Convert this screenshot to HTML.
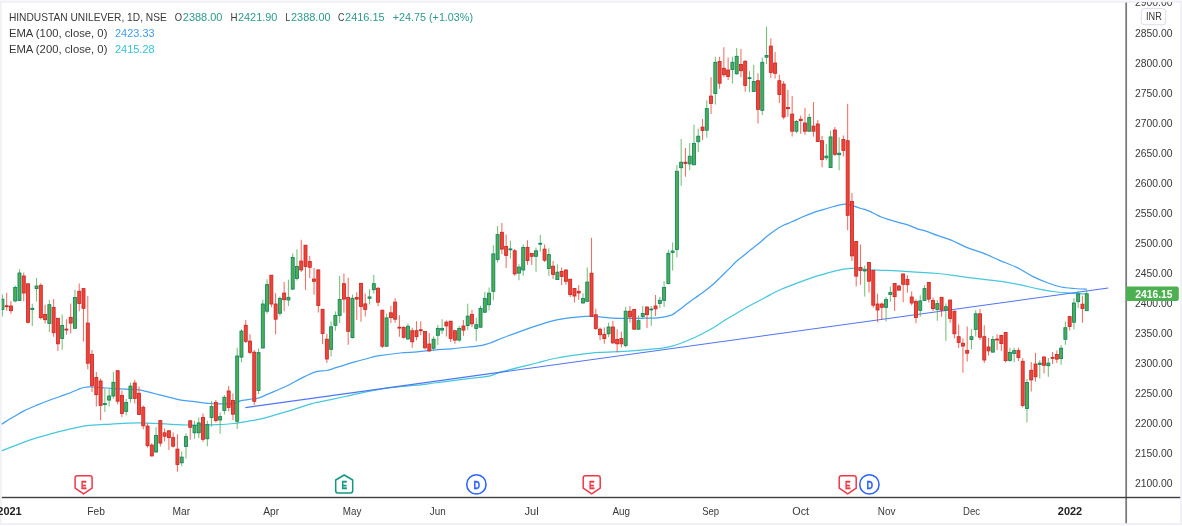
<!DOCTYPE html>
<html><head><meta charset="utf-8"><title>HINDUSTAN UNILEVER</title>
<style>html,body{margin:0;padding:0;background:#fff;}body{width:1182px;height:526px;overflow:hidden;font-family:"Liberation Sans",sans-serif;}svg{display:block;will-change:transform;}text{font-family:"Liberation Sans",sans-serif;}</style></head><body>
<svg width="1182" height="526" viewBox="0 0 1182 526">
<rect x="0" y="0" width="1182" height="526" fill="#ffffff"/>
<rect x="0" y="0" width="1182" height="0.8" fill="#f8f9fb"/>
<rect x="0" y="0.8" width="1182" height="2.0" fill="#f0f1f6"/>
<rect x="0" y="523.0" width="1182" height="2.1" fill="#f0f1f6"/>
<rect x="0" y="0.8" width="1.7" height="524.3" fill="#f0f1f6"/>
<rect x="1180.1" y="0.8" width="1.9" height="524.3" fill="#f0f1f6"/>
<defs><clipPath id="pc"><rect x="1.7" y="2.8" width="1123.7" height="493.8"/></clipPath></defs>
<g clip-path="url(#pc)">
<path d="M0.0,451.4 C0.2,451.30 -1.5,451.90 1.4,450.80 C4.2,449.70 11.6,446.83 17.1,444.80 C22.6,442.77 28.5,440.45 34.2,438.60 C39.9,436.75 45.6,435.23 51.3,433.70 C57.0,432.17 63.3,430.63 68.4,429.40 C73.5,428.17 78.1,427.02 82.1,426.30 C86.1,425.58 87.6,425.47 92.4,425.10 C97.2,424.73 105.2,424.42 111.2,424.10 C117.2,423.78 123.5,423.40 128.3,423.20 C133.2,423.00 136.0,422.87 140.3,422.90 C144.6,422.93 148.9,423.17 154.0,423.40 C159.1,423.63 165.4,424.03 171.1,424.30 C176.8,424.57 183.4,424.88 188.2,425.00 C193.0,425.12 195.2,425.05 200.0,425.00 C204.8,424.95 211.4,424.95 217.1,424.70 C222.8,424.45 229.1,424.07 234.2,423.50 C239.3,422.93 243.6,422.02 247.9,421.30 C252.2,420.58 255.0,420.35 259.9,419.20 C264.8,418.05 271.3,416.05 277.0,414.40 C282.7,412.75 288.4,411.07 294.1,409.30 C299.8,407.53 305.5,405.32 311.2,403.80 C316.9,402.28 322.6,401.42 328.3,400.20 C334.0,398.98 339.7,397.75 345.4,396.50 C351.1,395.25 356.8,393.90 362.5,392.70 C368.2,391.50 373.4,390.30 379.6,389.30 C385.9,388.30 393.8,387.38 400.0,386.70 C406.2,386.02 411.4,385.82 417.1,385.20 C422.8,384.58 428.5,383.73 434.2,383.00 C439.9,382.27 445.6,381.52 451.3,380.80 C457.0,380.08 462.1,379.48 468.4,378.70 C474.7,377.92 483.9,377.10 489.0,376.10 C494.1,375.10 494.1,374.20 499.2,372.70 C504.3,371.20 513.5,368.72 519.8,367.10 C526.1,365.48 531.2,364.43 536.9,363.00 C542.6,361.57 548.3,359.73 554.0,358.50 C559.7,357.27 565.4,356.45 571.1,355.60 C576.8,354.75 583.4,353.95 588.2,353.40 C593.0,352.85 592.8,352.72 600.0,352.30 C607.2,351.88 622.0,351.50 631.4,350.90 C640.8,350.30 649.7,349.48 656.5,348.70 C663.3,347.92 665.8,348.03 672.1,346.20 C678.4,344.37 687.3,340.73 694.1,337.70 C700.9,334.67 707.7,330.95 712.9,328.00 C718.1,325.05 721.1,322.50 725.1,320.00 C729.1,317.50 733.1,315.33 737.1,313.00 C741.1,310.67 745.1,308.17 749.0,306.00 C752.9,303.83 756.9,301.93 760.5,300.00 C764.1,298.07 767.4,296.18 770.9,294.40 C774.4,292.62 777.9,290.83 781.4,289.30 C784.9,287.77 788.3,286.55 791.8,285.20 C795.3,283.85 798.8,282.50 802.3,281.20 C805.8,279.90 809.3,278.55 812.8,277.40 C816.3,276.25 819.7,275.30 823.2,274.30 C826.7,273.30 830.6,272.22 833.7,271.40 C836.8,270.58 839.3,269.90 842.0,269.40 C844.7,268.90 847.7,268.55 850.0,268.40 C852.3,268.25 852.3,268.27 856.0,268.50 C859.7,268.73 863.8,269.33 872.0,269.80 C880.2,270.27 894.0,270.68 905.0,271.30 C916.0,271.92 928.8,272.65 938.0,273.50 C947.2,274.35 952.7,275.45 960.0,276.40 C967.3,277.35 974.7,278.28 982.0,279.20 C989.3,280.12 997.4,280.90 1004.0,281.90 C1010.6,282.90 1015.7,284.00 1021.6,285.20 C1027.5,286.40 1033.3,287.97 1039.2,289.10 C1045.1,290.23 1051.7,291.33 1056.8,292.00 C1061.9,292.67 1065.0,292.77 1070.0,293.10 C1075.0,293.43 1084.1,293.85 1086.9,294.00" fill="none" stroke="#45c8dc" stroke-width="1.25" stroke-linejoin="round"/>
<path d="M0.0,425.0 C0.2,424.88 -0.6,425.50 1.4,424.30 C3.4,423.10 8.2,420.03 12.0,417.80 C15.8,415.57 19.7,413.05 24.0,410.90 C28.3,408.75 33.1,406.80 37.6,404.90 C42.1,403.00 46.7,401.20 51.3,399.50 C55.9,397.80 60.7,396.28 65.0,394.70 C69.3,393.12 73.9,391.20 77.0,390.00 C80.1,388.80 81.2,388.00 83.8,387.50 C86.4,387.00 88.7,386.92 92.4,387.00 C96.1,387.08 101.4,387.70 106.0,388.00 C110.6,388.30 115.2,388.55 119.8,388.80 C124.4,389.05 129.7,389.23 133.4,389.50 C137.1,389.77 138.6,389.73 142.0,390.40 C145.4,391.07 149.7,392.42 154.0,393.50 C158.3,394.58 163.4,395.85 167.7,396.90 C172.0,397.95 175.9,399.08 179.6,399.80 C183.3,400.52 186.6,400.78 190.0,401.20 C193.4,401.62 196.6,401.92 200.0,402.30 C203.4,402.68 206.9,403.25 210.3,403.50 C213.7,403.75 216.5,403.83 220.5,403.80 C224.5,403.77 230.8,403.82 234.2,403.30 C237.6,402.78 238.2,401.42 241.1,400.70 C243.9,399.98 248.5,399.42 251.3,399.00 C254.2,398.58 255.3,399.05 258.2,398.20 C261.0,397.35 263.8,395.85 268.4,393.90 C272.9,391.95 279.8,389.22 285.5,386.50 C291.2,383.78 297.5,380.07 302.6,377.60 C307.7,375.13 312.3,372.88 316.3,371.70 C320.3,370.52 323.2,371.22 326.6,370.50 C330.0,369.78 332.3,368.78 336.9,367.40 C341.5,366.02 348.3,363.85 354.0,362.20 C359.7,360.55 366.8,358.58 371.1,357.50 C375.4,356.42 374.8,356.45 379.6,355.70 C384.4,354.95 393.8,353.65 400.0,353.00 C406.2,352.35 411.4,352.28 417.1,351.80 C422.8,351.32 428.5,350.60 434.2,350.10 C439.9,349.60 445.6,349.32 451.3,348.80 C457.0,348.28 463.3,347.58 468.4,347.00 C473.5,346.42 478.4,346.00 482.1,345.30 C485.8,344.60 487.3,344.02 490.7,342.80 C494.1,341.58 497.8,339.87 502.6,338.00 C507.5,336.13 514.1,333.65 519.8,331.60 C525.5,329.55 531.8,327.40 536.9,325.70 C542.0,324.00 546.3,322.55 550.6,321.40 C554.9,320.25 557.7,319.57 562.5,318.80 C567.3,318.03 575.0,317.25 579.6,316.80 C584.2,316.35 586.5,316.08 589.9,316.10 C593.3,316.12 595.2,316.53 600.0,316.90 C604.8,317.27 612.0,318.07 618.8,318.30 C625.6,318.53 633.9,318.42 640.8,318.30 C647.7,318.18 654.8,318.18 660.0,317.60 C665.2,317.02 669.1,315.85 672.0,314.80 C674.9,313.75 674.8,312.97 677.1,311.30 C679.4,309.63 682.9,306.93 685.7,304.80 C688.6,302.67 691.4,300.55 694.2,298.50 C697.1,296.45 699.9,294.63 702.8,292.50 C705.7,290.37 708.5,288.13 711.4,285.70 C714.2,283.27 717.0,280.62 719.9,277.90 C722.8,275.18 725.6,272.25 728.5,269.40 C731.4,266.55 734.2,263.37 737.1,260.80 C740.0,258.23 743.5,255.77 745.6,254.00 C747.8,252.23 747.9,251.90 750.0,250.20 C752.1,248.50 755.6,246.07 758.4,243.80 C761.2,241.53 763.9,238.87 766.7,236.60 C769.5,234.33 772.3,232.08 775.1,230.20 C777.9,228.32 780.7,226.70 783.5,225.30 C786.3,223.90 788.7,223.18 791.8,221.80 C794.9,220.42 798.8,218.50 802.3,217.00 C805.8,215.50 809.3,214.03 812.8,212.80 C816.3,211.57 819.7,210.65 823.2,209.60 C826.7,208.55 830.9,207.30 833.7,206.50 C836.5,205.70 838.2,205.18 840.1,204.80 C842.0,204.42 843.2,204.18 844.9,204.20 C846.6,204.22 848.9,204.57 850.4,204.90 C851.9,205.23 852.1,205.60 853.8,206.20 C855.5,206.80 858.7,207.90 860.7,208.50 C862.7,209.10 864.3,209.32 865.8,209.80 C867.3,210.28 868.2,210.62 869.9,211.40 C871.6,212.18 874.2,213.57 876.1,214.50 C878.0,215.43 879.2,216.18 881.2,217.00 C883.2,217.82 885.8,218.68 888.1,219.40 C890.4,220.12 892.9,220.73 894.9,221.30 C896.9,221.87 898.1,222.23 900.1,222.80 C902.1,223.37 904.6,223.95 906.9,224.70 C909.2,225.45 911.8,226.53 913.8,227.30 C915.8,228.07 916.9,228.67 918.9,229.30 C920.9,229.93 922.6,230.03 925.8,231.10 C929.0,232.17 933.8,234.20 938.0,235.70 C942.2,237.20 946.4,238.15 951.2,240.10 C956.0,242.05 961.5,245.32 966.6,247.40 C971.7,249.48 976.5,250.45 982.0,252.60 C987.5,254.75 993.7,257.80 999.6,260.30 C1005.5,262.80 1011.7,264.92 1017.2,267.60 C1022.7,270.28 1027.5,273.83 1032.6,276.40 C1037.7,278.97 1043.2,281.23 1048.0,283.00 C1052.8,284.77 1056.8,286.08 1061.2,287.00 C1065.6,287.92 1070.1,288.15 1074.4,288.50 C1078.7,288.85 1084.8,289.00 1086.9,289.10" fill="none" stroke="#46a0f2" stroke-width="1.25" stroke-linejoin="round"/>
<path d="M245.4,407.6 L1108.2,288.0" fill="none" stroke="#4f74f3" stroke-width="1.1"/>
<g stroke-width="1.05" opacity="0.78" fill="none"><path d="M2.40,294.4V316.6" stroke="#4caf50"/><path d="M6.67,293.0V310.7" stroke="#f44336"/><path d="M10.94,300.9V313.7" stroke="#f44336"/><path d="M15.21,285.5V302.6" stroke="#4caf50"/><path d="M19.48,269.2V300.9" stroke="#4caf50"/><path d="M23.74,272.6V301.2" stroke="#f44336"/><path d="M28.01,283.8V323.5" stroke="#f44336"/><path d="M32.28,303.8V326.0" stroke="#4caf50"/><path d="M36.55,278.0V301.6" stroke="#4caf50"/><path d="M40.82,283.3V319.4" stroke="#f44336"/><path d="M45.09,304.7V323.5" stroke="#f44336"/><path d="M49.36,300.0V332.0" stroke="#4caf50"/><path d="M53.63,299.0V336.8" stroke="#f44336"/><path d="M57.90,318.3V351.0" stroke="#f44336"/><path d="M62.17,314.5V349.7" stroke="#4caf50"/><path d="M66.44,319.2V334.7" stroke="#f44336"/><path d="M70.70,303.6V333.4" stroke="#f44336"/><path d="M74.97,290.0V328.6" stroke="#4caf50"/><path d="M79.24,283.6V311.3" stroke="#f44336"/><path d="M83.51,288.6V341.5" stroke="#f44336"/><path d="M87.78,296.0V369.2" stroke="#f44336"/><path d="M92.05,350.0V392.1" stroke="#f44336"/><path d="M96.32,372.0V406.6" stroke="#f44336"/><path d="M100.59,378.4V420.3" stroke="#f44336"/><path d="M104.86,388.7V412.1" stroke="#4caf50"/><path d="M109.13,388.7V406.6" stroke="#4caf50"/><path d="M113.39,371.9V398.4" stroke="#4caf50"/><path d="M117.66,370.3V404.6" stroke="#f44336"/><path d="M121.93,390.4V417.0" stroke="#f44336"/><path d="M126.20,399.0V415.5" stroke="#4caf50"/><path d="M130.47,382.7V402.4" stroke="#4caf50"/><path d="M134.74,379.8V403.2" stroke="#f44336"/><path d="M139.01,386.4V415.0" stroke="#f44336"/><path d="M143.28,405.6V429.3" stroke="#f44336"/><path d="M147.55,423.2V447.4" stroke="#f44336"/><path d="M151.81,443.1V456.4" stroke="#f44336"/><path d="M156.08,427.3V452.5" stroke="#4caf50"/><path d="M160.35,420.4V446.5" stroke="#f44336"/><path d="M164.62,428.5V441.4" stroke="#f44336"/><path d="M168.89,430.2V449.9" stroke="#f44336"/><path d="M173.16,432.5V447.4" stroke="#f44336"/><path d="M177.43,434.2V471.8" stroke="#f44336"/><path d="M181.70,451.3V466.2" stroke="#4caf50"/><path d="M185.97,433.2V458.5" stroke="#4caf50"/><path d="M190.24,420.5V439.7" stroke="#f44336"/><path d="M194.51,420.8V438.8" stroke="#4caf50"/><path d="M198.77,417.4V437.9" stroke="#4caf50"/><path d="M203.04,413.6V441.7" stroke="#f44336"/><path d="M207.31,420.8V446.2" stroke="#4caf50"/><path d="M211.58,401.1V426.8" stroke="#4caf50"/><path d="M215.85,399.9V422.5" stroke="#f44336"/><path d="M220.12,412.5V433.7" stroke="#4caf50"/><path d="M224.39,395.1V414.6" stroke="#4caf50"/><path d="M228.66,385.9V411.2" stroke="#f44336"/><path d="M232.93,393.6V420.2" stroke="#f44336"/><path d="M237.20,347.7V429.0" stroke="#4caf50"/><path d="M241.46,329.0V361.9" stroke="#4caf50"/><path d="M245.73,320.0V343.1" stroke="#f44336"/><path d="M250.00,334.3V354.2" stroke="#f44336"/><path d="M254.27,349.9V405.1" stroke="#f44336"/><path d="M258.54,348.5V393.9" stroke="#4caf50"/><path d="M262.81,299.7V348.4" stroke="#4caf50"/><path d="M267.08,279.2V313.8" stroke="#4caf50"/><path d="M271.35,275.2V307.2" stroke="#f44336"/><path d="M275.62,293.3V334.3" stroke="#f44336"/><path d="M279.88,296.5V315.7" stroke="#4caf50"/><path d="M284.15,281.9V311.2" stroke="#f44336"/><path d="M288.42,279.8V305.9" stroke="#4caf50"/><path d="M292.69,253.4V289.9" stroke="#4caf50"/><path d="M296.96,249.2V280.6" stroke="#4caf50"/><path d="M301.23,239.8V272.1" stroke="#f44336"/><path d="M305.50,245.2V289.9" stroke="#f44336"/><path d="M309.77,255.8V277.9" stroke="#f44336"/><path d="M314.04,268.1V294.8" stroke="#f44336"/><path d="M318.31,269.4V312.5" stroke="#f44336"/><path d="M322.57,309.2V344.0" stroke="#f44336"/><path d="M326.84,333.7V363.0" stroke="#f44336"/><path d="M331.11,321.4V356.5" stroke="#4caf50"/><path d="M335.38,311.4V330.8" stroke="#4caf50"/><path d="M339.65,276.0V323.1" stroke="#4caf50"/><path d="M343.92,273.4V312.8" stroke="#f44336"/><path d="M348.19,277.7V344.8" stroke="#f44336"/><path d="M352.46,294.5V338.5" stroke="#4caf50"/><path d="M356.73,292.3V320.0" stroke="#f44336"/><path d="M361.00,282.8V321.7" stroke="#f44336"/><path d="M365.26,293.6V316.6" stroke="#f44336"/><path d="M369.53,289.2V304.6" stroke="#4caf50"/><path d="M373.80,275.1V293.6" stroke="#4caf50"/><path d="M378.07,287.1V306.3" stroke="#f44336"/><path d="M382.34,309.7V347.9" stroke="#f44336"/><path d="M386.61,313.7V347.0" stroke="#4caf50"/><path d="M390.88,306.0V323.1" stroke="#f44336"/><path d="M395.15,298.3V322.7" stroke="#f44336"/><path d="M399.42,315.3V336.7" stroke="#f44336"/><path d="M403.69,326.3V338.6" stroke="#f44336"/><path d="M407.95,323.4V339.5" stroke="#4caf50"/><path d="M412.22,327.7V347.8" stroke="#f44336"/><path d="M416.49,321.2V340.4" stroke="#f44336"/><path d="M420.76,321.2V335.3" stroke="#f44336"/><path d="M425.03,331.5V349.5" stroke="#f44336"/><path d="M429.30,333.2V351.7" stroke="#f44336"/><path d="M433.57,336.6V350.7" stroke="#4caf50"/><path d="M437.84,325.0V344.9" stroke="#4caf50"/><path d="M442.11,319.2V334.1" stroke="#4caf50"/><path d="M446.38,320.4V336.6" stroke="#f44336"/><path d="M450.64,320.9V342.1" stroke="#f44336"/><path d="M454.91,330.7V343.8" stroke="#f44336"/><path d="M459.18,326.0V341.8" stroke="#4caf50"/><path d="M463.45,319.9V335.8" stroke="#f44336"/><path d="M467.72,303.8V330.1" stroke="#4caf50"/><path d="M471.99,309.8V327.2" stroke="#f44336"/><path d="M476.26,317.8V340.9" stroke="#4caf50"/><path d="M480.53,305.8V327.7" stroke="#4caf50"/><path d="M484.80,292.0V313.0" stroke="#4caf50"/><path d="M489.07,287.5V310.5" stroke="#4caf50"/><path d="M493.33,245.3V300.2" stroke="#4caf50"/><path d="M497.60,226.0V262.5" stroke="#4caf50"/><path d="M501.87,223.1V254.2" stroke="#f44336"/><path d="M506.14,234.6V267.9" stroke="#f44336"/><path d="M510.41,240.5V258.5" stroke="#4caf50"/><path d="M514.68,249.1V275.7" stroke="#f44336"/><path d="M518.95,264.2V280.3" stroke="#4caf50"/><path d="M523.22,244.3V275.7" stroke="#4caf50"/><path d="M527.49,240.2V264.9" stroke="#f44336"/><path d="M531.76,252.9V264.9" stroke="#f44336"/><path d="M536.02,247.4V271.7" stroke="#4caf50"/><path d="M540.29,235.1V251.7" stroke="#4caf50"/><path d="M544.56,244.5V262.0" stroke="#f44336"/><path d="M548.83,248.3V275.7" stroke="#4caf50"/><path d="M553.10,261.1V279.1" stroke="#f44336"/><path d="M557.37,264.2V279.9" stroke="#4caf50"/><path d="M561.64,267.6V285.1" stroke="#f44336"/><path d="M565.91,269.3V284.7" stroke="#f44336"/><path d="M570.18,279.0V296.9" stroke="#f44336"/><path d="M574.45,288.1V302.4" stroke="#f44336"/><path d="M578.72,285.2V299.8" stroke="#f44336"/><path d="M582.98,293.3V303.5" stroke="#4caf50"/><path d="M587.25,267.6V301.8" stroke="#4caf50"/><path d="M591.52,237.8V316.7" stroke="#f44336"/><path d="M595.79,308.7V330.1" stroke="#f44336"/><path d="M600.06,327.5V340.3" stroke="#f44336"/><path d="M604.33,327.5V343.8" stroke="#f44336"/><path d="M608.60,322.4V336.9" stroke="#4caf50"/><path d="M612.87,320.7V343.8" stroke="#f44336"/><path d="M617.14,329.2V352.3" stroke="#f44336"/><path d="M621.40,331.8V347.5" stroke="#f44336"/><path d="M625.67,307.0V347.2" stroke="#4caf50"/><path d="M629.94,306.1V322.4" stroke="#f44336"/><path d="M634.21,309.2V329.7" stroke="#f44336"/><path d="M638.48,315.5V329.7" stroke="#4caf50"/><path d="M642.75,306.1V318.4" stroke="#4caf50"/><path d="M647.02,306.6V328.0" stroke="#f44336"/><path d="M651.29,306.1V325.8" stroke="#4caf50"/><path d="M655.56,295.1V316.0" stroke="#f44336"/><path d="M659.83,296.8V308.0" stroke="#4caf50"/><path d="M664.10,281.2V307.0" stroke="#4caf50"/><path d="M668.36,249.8V284.1" stroke="#4caf50"/><path d="M672.63,242.6V270.4" stroke="#4caf50"/><path d="M676.90,165.1V257.2" stroke="#4caf50"/><path d="M681.17,139.1V185.7" stroke="#4caf50"/><path d="M685.44,148.0V176.8" stroke="#f44336"/><path d="M689.71,142.9V170.3" stroke="#4caf50"/><path d="M693.98,124.6V164.8" stroke="#4caf50"/><path d="M698.25,128.8V152.0" stroke="#4caf50"/><path d="M702.52,118.9V140.0" stroke="#f44336"/><path d="M706.78,100.3V137.4" stroke="#4caf50"/><path d="M711.05,77.2V114.0" stroke="#f44336"/><path d="M715.32,56.7V104.6" stroke="#4caf50"/><path d="M719.59,56.7V88.7" stroke="#f44336"/><path d="M723.86,47.3V77.2" stroke="#f44336"/><path d="M728.13,57.5V80.1" stroke="#f44336"/><path d="M732.40,56.7V83.6" stroke="#4caf50"/><path d="M736.67,48.1V74.7" stroke="#4caf50"/><path d="M740.94,49.0V77.2" stroke="#f44336"/><path d="M745.21,60.1V91.8" stroke="#f44336"/><path d="M749.48,71.2V92.3" stroke="#4caf50"/><path d="M753.74,64.7V91.8" stroke="#4caf50"/><path d="M758.01,73.3V123.4" stroke="#f44336"/><path d="M762.28,57.5V115.0" stroke="#4caf50"/><path d="M766.55,26.7V64.0" stroke="#4caf50"/><path d="M770.82,38.4V77.7" stroke="#f44336"/><path d="M775.09,52.1V78.4" stroke="#f44336"/><path d="M779.36,74.7V103.0" stroke="#f44336"/><path d="M783.63,81.0V119.2" stroke="#f44336"/><path d="M787.90,90.1V116.7" stroke="#f44336"/><path d="M792.16,96.1V136.4" stroke="#f44336"/><path d="M796.43,120.1V133.3" stroke="#4caf50"/><path d="M800.70,115.5V133.8" stroke="#f44336"/><path d="M804.97,108.1V134.7" stroke="#f44336"/><path d="M809.24,113.8V131.6" stroke="#4caf50"/><path d="M813.51,102.1V136.7" stroke="#f44336"/><path d="M817.78,120.1V142.0" stroke="#f44336"/><path d="M822.05,136.0V167.2" stroke="#f44336"/><path d="M826.32,144.1V160.3" stroke="#4caf50"/><path d="M830.59,130.4V168.0" stroke="#4caf50"/><path d="M834.86,127.0V156.1" stroke="#f44336"/><path d="M839.12,137.2V170.3" stroke="#4caf50"/><path d="M843.39,135.5V156.6" stroke="#f44336"/><path d="M847.66,103.8V230.2" stroke="#f44336"/><path d="M851.93,192.9V261.0" stroke="#f44336"/><path d="M856.20,241.0V286.4" stroke="#f44336"/><path d="M860.47,244.4V284.7" stroke="#f44336"/><path d="M864.74,265.5V296.6" stroke="#4caf50"/><path d="M869.01,262.0V292.4" stroke="#f44336"/><path d="M873.28,270.1V307.8" stroke="#f44336"/><path d="M877.54,293.7V322.3" stroke="#f44336"/><path d="M881.81,302.6V319.8" stroke="#f44336"/><path d="M886.08,297.0V321.5" stroke="#4caf50"/><path d="M890.35,286.4V301.8" stroke="#4caf50"/><path d="M894.62,282.9V310.9" stroke="#f44336"/><path d="M898.89,285.0V290.7" stroke="#f44336"/><path d="M903.16,273.5V302.3" stroke="#f44336"/><path d="M907.43,275.2V292.4" stroke="#f44336"/><path d="M911.70,291.5V305.2" stroke="#f44336"/><path d="M915.97,299.2V323.2" stroke="#f44336"/><path d="M920.24,295.3V316.8" stroke="#4caf50"/><path d="M924.50,285.2V300.9" stroke="#4caf50"/><path d="M928.77,282.1V302.4" stroke="#f44336"/><path d="M933.04,297.4V311.0" stroke="#f44336"/><path d="M937.31,300.1V320.8" stroke="#4caf50"/><path d="M941.58,297.0V316.7" stroke="#f44336"/><path d="M945.85,303.5V340.7" stroke="#4caf50"/><path d="M950.12,299.6V322.7" stroke="#f44336"/><path d="M954.39,310.7V338.4" stroke="#f44336"/><path d="M958.66,324.4V348.0" stroke="#f44336"/><path d="M962.92,338.4V372.7" stroke="#f44336"/><path d="M967.19,326.6V361.5" stroke="#f44336"/><path d="M971.46,329.2V349.2" stroke="#4caf50"/><path d="M975.73,310.3V336.4" stroke="#4caf50"/><path d="M980.00,309.0V340.1" stroke="#f44336"/><path d="M984.27,325.2V362.9" stroke="#f44336"/><path d="M988.54,338.1V355.5" stroke="#f44336"/><path d="M992.81,336.0V352.6" stroke="#4caf50"/><path d="M997.08,334.3V350.1" stroke="#f44336"/><path d="M1001.35,334.7V350.9" stroke="#f44336"/><path d="M1005.62,332.1V362.4" stroke="#f44336"/><path d="M1009.88,347.8V361.7" stroke="#4caf50"/><path d="M1014.15,347.8V362.3" stroke="#4caf50"/><path d="M1018.42,347.8V361.0" stroke="#f44336"/><path d="M1022.69,358.3V407.6" stroke="#f44336"/><path d="M1026.96,379.0V422.5" stroke="#4caf50"/><path d="M1031.23,361.9V391.4" stroke="#f44336"/><path d="M1035.50,352.8V381.6" stroke="#f44336"/><path d="M1039.77,360.2V378.5" stroke="#4caf50"/><path d="M1044.04,355.8V373.4" stroke="#f44336"/><path d="M1048.31,358.0V376.8" stroke="#4caf50"/><path d="M1052.57,352.0V364.0" stroke="#f44336"/><path d="M1056.84,350.5V363.1" stroke="#f44336"/><path d="M1061.11,345.0V364.8" stroke="#4caf50"/><path d="M1065.38,321.4V344.8" stroke="#4caf50"/><path d="M1069.65,315.9V330.4" stroke="#f44336"/><path d="M1073.92,298.3V329.4" stroke="#4caf50"/><path d="M1078.19,290.9V308.0" stroke="#4caf50"/><path d="M1082.46,295.7V322.7" stroke="#f44336"/><path d="M1086.73,290.4V311.1" stroke="#4caf50"/></g>
<g stroke-width="0.85"><rect x="0.90" y="299.2" width="3.0" height="10.3" fill="#4caf50" stroke="#0f8266"/><rect x="5.17" y="305.8" width="3.0" height="0.9" fill="#f44336" stroke="#c42a27"/><rect x="9.44" y="306.0" width="3.0" height="4.7" fill="#f44336" stroke="#c42a27"/><rect x="13.71" y="287.5" width="3.0" height="13.4" fill="#4caf50" stroke="#0f8266"/><rect x="17.98" y="273.0" width="3.0" height="27.5" fill="#4caf50" stroke="#0f8266"/><rect x="22.24" y="276.0" width="3.0" height="17.0" fill="#f44336" stroke="#c42a27"/><rect x="26.51" y="283.8" width="3.0" height="38.5" fill="#f44336" stroke="#c42a27"/><rect x="30.78" y="308.3" width="3.0" height="1.2" fill="#4caf50" stroke="#0f8266"/><rect x="35.05" y="286.0" width="3.0" height="2.6" fill="#4caf50" stroke="#0f8266"/><rect x="39.32" y="285.3" width="3.0" height="32.4" fill="#f44336" stroke="#c42a27"/><rect x="43.59" y="314.4" width="3.0" height="5.3" fill="#f44336" stroke="#c42a27"/><rect x="47.86" y="304.7" width="3.0" height="18.8" fill="#4caf50" stroke="#0f8266"/><rect x="52.13" y="307.4" width="3.0" height="25.3" fill="#f44336" stroke="#c42a27"/><rect x="56.40" y="318.3" width="3.0" height="25.5" fill="#f44336" stroke="#c42a27"/><rect x="60.67" y="325.5" width="3.0" height="13.0" fill="#4caf50" stroke="#0f8266"/><rect x="64.94" y="329.1" width="3.0" height="0.9" fill="#f44336" stroke="#c42a27"/><rect x="69.20" y="317.3" width="3.0" height="5.8" fill="#f44336" stroke="#c42a27"/><rect x="73.47" y="297.5" width="3.0" height="30.8" fill="#4caf50" stroke="#0f8266"/><rect x="77.74" y="291.3" width="3.0" height="12.2" fill="#f44336" stroke="#c42a27"/><rect x="82.01" y="288.6" width="3.0" height="19.7" fill="#f44336" stroke="#c42a27"/><rect x="86.28" y="323.1" width="3.0" height="40.1" fill="#f44336" stroke="#c42a27"/><rect x="90.55" y="354.4" width="3.0" height="31.3" fill="#f44336" stroke="#c42a27"/><rect x="94.82" y="377.5" width="3.0" height="17.2" fill="#f44336" stroke="#c42a27"/><rect x="99.09" y="381.0" width="3.0" height="24.3" fill="#f44336" stroke="#c42a27"/><rect x="103.36" y="403.6" width="3.0" height="1.0" fill="#4caf50" stroke="#0f8266"/><rect x="107.63" y="396.0" width="3.0" height="4.1" fill="#4caf50" stroke="#0f8266"/><rect x="111.89" y="382.3" width="3.0" height="13.7" fill="#4caf50" stroke="#0f8266"/><rect x="116.16" y="370.7" width="3.0" height="30.5" fill="#f44336" stroke="#c42a27"/><rect x="120.43" y="395.5" width="3.0" height="18.0" fill="#f44336" stroke="#c42a27"/><rect x="124.70" y="402.4" width="3.0" height="9.0" fill="#4caf50" stroke="#0f8266"/><rect x="128.97" y="386.1" width="3.0" height="12.3" fill="#4caf50" stroke="#0f8266"/><rect x="133.24" y="383.0" width="3.0" height="15.4" fill="#f44336" stroke="#c42a27"/><rect x="137.51" y="393.3" width="3.0" height="21.2" fill="#f44336" stroke="#c42a27"/><rect x="141.78" y="407.3" width="3.0" height="18.5" fill="#f44336" stroke="#c42a27"/><rect x="146.05" y="426.1" width="3.0" height="19.6" fill="#f44336" stroke="#c42a27"/><rect x="150.31" y="445.1" width="3.0" height="10.8" fill="#f44336" stroke="#c42a27"/><rect x="154.58" y="435.4" width="3.0" height="16.6" fill="#4caf50" stroke="#0f8266"/><rect x="158.85" y="420.6" width="3.0" height="22.5" fill="#f44336" stroke="#c42a27"/><rect x="163.12" y="432.8" width="3.0" height="3.4" fill="#f44336" stroke="#c42a27"/><rect x="167.39" y="430.8" width="3.0" height="6.8" fill="#f44336" stroke="#c42a27"/><rect x="171.66" y="437.6" width="3.0" height="8.6" fill="#f44336" stroke="#c42a27"/><rect x="175.93" y="449.1" width="3.0" height="15.4" fill="#f44336" stroke="#c42a27"/><rect x="180.20" y="457.1" width="3.0" height="5.7" fill="#4caf50" stroke="#0f8266"/><rect x="184.47" y="436.6" width="3.0" height="9.9" fill="#4caf50" stroke="#0f8266"/><rect x="188.74" y="420.8" width="3.0" height="6.5" fill="#f44336" stroke="#c42a27"/><rect x="193.01" y="425.4" width="3.0" height="7.4" fill="#4caf50" stroke="#0f8266"/><rect x="197.27" y="422.9" width="3.0" height="9.9" fill="#4caf50" stroke="#0f8266"/><rect x="201.54" y="417.4" width="3.0" height="21.9" fill="#f44336" stroke="#c42a27"/><rect x="205.81" y="424.6" width="3.0" height="14.2" fill="#4caf50" stroke="#0f8266"/><rect x="210.08" y="406.6" width="3.0" height="10.8" fill="#4caf50" stroke="#0f8266"/><rect x="214.35" y="402.4" width="3.0" height="18.1" fill="#f44336" stroke="#c42a27"/><rect x="218.62" y="416.6" width="3.0" height="3.4" fill="#4caf50" stroke="#0f8266"/><rect x="222.89" y="397.3" width="3.0" height="13.2" fill="#4caf50" stroke="#0f8266"/><rect x="227.16" y="391.0" width="3.0" height="16.4" fill="#f44336" stroke="#c42a27"/><rect x="231.43" y="400.4" width="3.0" height="13.8" fill="#f44336" stroke="#c42a27"/><rect x="235.70" y="356.0" width="3.0" height="65.3" fill="#4caf50" stroke="#0f8266"/><rect x="239.96" y="331.1" width="3.0" height="26.0" fill="#4caf50" stroke="#0f8266"/><rect x="244.23" y="325.3" width="3.0" height="16.0" fill="#f44336" stroke="#c42a27"/><rect x="248.50" y="341.1" width="3.0" height="11.2" fill="#f44336" stroke="#c42a27"/><rect x="252.77" y="352.2" width="3.0" height="49.1" fill="#f44336" stroke="#c42a27"/><rect x="257.04" y="352.6" width="3.0" height="37.9" fill="#4caf50" stroke="#0f8266"/><rect x="261.31" y="304.0" width="3.0" height="44.0" fill="#4caf50" stroke="#0f8266"/><rect x="265.58" y="284.6" width="3.0" height="26.6" fill="#4caf50" stroke="#0f8266"/><rect x="269.85" y="275.2" width="3.0" height="28.8" fill="#f44336" stroke="#c42a27"/><rect x="274.12" y="304.0" width="3.0" height="15.2" fill="#f44336" stroke="#c42a27"/><rect x="278.38" y="298.4" width="3.0" height="14.9" fill="#4caf50" stroke="#0f8266"/><rect x="282.65" y="293.1" width="3.0" height="6.6" fill="#f44336" stroke="#c42a27"/><rect x="286.92" y="297.3" width="3.0" height="2.7" fill="#4caf50" stroke="#0f8266"/><rect x="291.19" y="257.4" width="3.0" height="31.7" fill="#4caf50" stroke="#0f8266"/><rect x="295.46" y="266.5" width="3.0" height="11.9" fill="#4caf50" stroke="#0f8266"/><rect x="299.73" y="261.1" width="3.0" height="8.8" fill="#f44336" stroke="#c42a27"/><rect x="304.00" y="245.2" width="3.0" height="21.3" fill="#f44336" stroke="#c42a27"/><rect x="308.27" y="261.4" width="3.0" height="5.9" fill="#f44336" stroke="#c42a27"/><rect x="312.54" y="279.0" width="3.0" height="2.3" fill="#f44336" stroke="#c42a27"/><rect x="316.81" y="269.9" width="3.0" height="35.6" fill="#f44336" stroke="#c42a27"/><rect x="321.07" y="309.3" width="3.0" height="24.2" fill="#f44336" stroke="#c42a27"/><rect x="325.34" y="339.2" width="3.0" height="19.8" fill="#f44336" stroke="#c42a27"/><rect x="329.61" y="326.8" width="3.0" height="22.5" fill="#4caf50" stroke="#0f8266"/><rect x="333.88" y="315.4" width="3.0" height="9.9" fill="#4caf50" stroke="#0f8266"/><rect x="338.15" y="299.5" width="3.0" height="15.9" fill="#4caf50" stroke="#0f8266"/><rect x="342.42" y="283.7" width="3.0" height="15.4" fill="#f44336" stroke="#c42a27"/><rect x="346.69" y="297.4" width="3.0" height="33.9" fill="#f44336" stroke="#c42a27"/><rect x="350.96" y="298.3" width="3.0" height="39.3" fill="#4caf50" stroke="#0f8266"/><rect x="355.23" y="297.4" width="3.0" height="1.7" fill="#f44336" stroke="#c42a27"/><rect x="359.50" y="283.4" width="3.0" height="23.1" fill="#f44336" stroke="#c42a27"/><rect x="363.76" y="303.9" width="3.0" height="5.5" fill="#f44336" stroke="#c42a27"/><rect x="368.03" y="296.9" width="3.0" height="1.4" fill="#4caf50" stroke="#0f8266"/><rect x="372.30" y="283.7" width="3.0" height="6.0" fill="#4caf50" stroke="#0f8266"/><rect x="376.57" y="288.3" width="3.0" height="13.9" fill="#f44336" stroke="#c42a27"/><rect x="380.84" y="310.2" width="3.0" height="36.0" fill="#f44336" stroke="#c42a27"/><rect x="385.11" y="317.9" width="3.0" height="28.3" fill="#4caf50" stroke="#0f8266"/><rect x="389.38" y="312.8" width="3.0" height="4.8" fill="#f44336" stroke="#c42a27"/><rect x="393.65" y="302.1" width="3.0" height="17.1" fill="#f44336" stroke="#c42a27"/><rect x="397.92" y="327.2" width="3.0" height="0.9" fill="#f44336" stroke="#c42a27"/><rect x="402.19" y="327.4" width="3.0" height="9.9" fill="#f44336" stroke="#c42a27"/><rect x="406.45" y="326.2" width="3.0" height="12.8" fill="#4caf50" stroke="#0f8266"/><rect x="410.72" y="330.7" width="3.0" height="11.1" fill="#f44336" stroke="#c42a27"/><rect x="414.99" y="330.7" width="3.0" height="5.9" fill="#f44336" stroke="#c42a27"/><rect x="419.26" y="329.8" width="3.0" height="0.9" fill="#f44336" stroke="#c42a27"/><rect x="423.53" y="331.5" width="3.0" height="16.3" fill="#f44336" stroke="#c42a27"/><rect x="427.80" y="344.0" width="3.0" height="6.9" fill="#f44336" stroke="#c42a27"/><rect x="432.07" y="339.2" width="3.0" height="9.1" fill="#4caf50" stroke="#0f8266"/><rect x="436.34" y="328.4" width="3.0" height="6.9" fill="#4caf50" stroke="#0f8266"/><rect x="440.61" y="328.4" width="3.0" height="1.7" fill="#4caf50" stroke="#0f8266"/><rect x="444.88" y="322.1" width="3.0" height="3.8" fill="#f44336" stroke="#c42a27"/><rect x="449.14" y="321.2" width="3.0" height="17.2" fill="#f44336" stroke="#c42a27"/><rect x="453.41" y="330.7" width="3.0" height="9.4" fill="#f44336" stroke="#c42a27"/><rect x="457.68" y="328.4" width="3.0" height="11.7" fill="#4caf50" stroke="#0f8266"/><rect x="461.95" y="326.0" width="3.0" height="4.1" fill="#f44336" stroke="#c42a27"/><rect x="466.22" y="316.1" width="3.0" height="9.4" fill="#4caf50" stroke="#0f8266"/><rect x="470.49" y="314.4" width="3.0" height="9.4" fill="#f44336" stroke="#c42a27"/><rect x="474.76" y="324.7" width="3.0" height="3.7" fill="#4caf50" stroke="#0f8266"/><rect x="479.03" y="308.4" width="3.0" height="18.8" fill="#4caf50" stroke="#0f8266"/><rect x="483.30" y="298.4" width="3.0" height="13.8" fill="#4caf50" stroke="#0f8266"/><rect x="487.57" y="293.2" width="3.0" height="11.5" fill="#4caf50" stroke="#0f8266"/><rect x="491.83" y="253.9" width="3.0" height="37.4" fill="#4caf50" stroke="#0f8266"/><rect x="496.10" y="234.6" width="3.0" height="24.8" fill="#4caf50" stroke="#0f8266"/><rect x="500.37" y="232.3" width="3.0" height="16.8" fill="#f44336" stroke="#c42a27"/><rect x="504.64" y="246.5" width="3.0" height="8.9" fill="#f44336" stroke="#c42a27"/><rect x="508.91" y="248.9" width="3.0" height="0.9" fill="#4caf50" stroke="#0f8266"/><rect x="513.18" y="250.8" width="3.0" height="23.1" fill="#f44336" stroke="#c42a27"/><rect x="517.45" y="267.1" width="3.0" height="6.0" fill="#4caf50" stroke="#0f8266"/><rect x="521.72" y="247.4" width="3.0" height="22.6" fill="#4caf50" stroke="#0f8266"/><rect x="525.99" y="247.4" width="3.0" height="13.2" fill="#f44336" stroke="#c42a27"/><rect x="530.26" y="253.4" width="3.0" height="2.9" fill="#f44336" stroke="#c42a27"/><rect x="534.52" y="250.8" width="3.0" height="5.5" fill="#4caf50" stroke="#0f8266"/><rect x="538.79" y="243.3" width="3.0" height="0.9" fill="#4caf50" stroke="#0f8266"/><rect x="543.06" y="249.1" width="3.0" height="11.1" fill="#f44336" stroke="#c42a27"/><rect x="547.33" y="254.6" width="3.0" height="13.9" fill="#4caf50" stroke="#0f8266"/><rect x="551.60" y="266.2" width="3.0" height="8.3" fill="#f44336" stroke="#c42a27"/><rect x="555.87" y="272.2" width="3.0" height="7.4" fill="#4caf50" stroke="#0f8266"/><rect x="560.14" y="271.4" width="3.0" height="5.1" fill="#f44336" stroke="#c42a27"/><rect x="564.41" y="270.0" width="3.0" height="11.3" fill="#f44336" stroke="#c42a27"/><rect x="568.68" y="279.2" width="3.0" height="15.4" fill="#f44336" stroke="#c42a27"/><rect x="572.95" y="288.5" width="3.0" height="7.5" fill="#f44336" stroke="#c42a27"/><rect x="577.22" y="291.3" width="3.0" height="1.7" fill="#f44336" stroke="#c42a27"/><rect x="581.48" y="298.4" width="3.0" height="4.6" fill="#4caf50" stroke="#0f8266"/><rect x="585.75" y="282.1" width="3.0" height="19.2" fill="#4caf50" stroke="#0f8266"/><rect x="590.02" y="273.2" width="3.0" height="43.2" fill="#f44336" stroke="#c42a27"/><rect x="594.29" y="314.7" width="3.0" height="13.7" fill="#f44336" stroke="#c42a27"/><rect x="598.56" y="329.2" width="3.0" height="5.5" fill="#f44336" stroke="#c42a27"/><rect x="602.83" y="334.3" width="3.0" height="4.3" fill="#f44336" stroke="#c42a27"/><rect x="607.10" y="327.0" width="3.0" height="6.8" fill="#4caf50" stroke="#0f8266"/><rect x="611.37" y="327.0" width="3.0" height="15.9" fill="#f44336" stroke="#c42a27"/><rect x="615.64" y="339.5" width="3.0" height="4.3" fill="#f44336" stroke="#c42a27"/><rect x="619.90" y="338.6" width="3.0" height="5.2" fill="#f44336" stroke="#c42a27"/><rect x="624.17" y="311.2" width="3.0" height="34.3" fill="#4caf50" stroke="#0f8266"/><rect x="628.44" y="311.2" width="3.0" height="5.7" fill="#f44336" stroke="#c42a27"/><rect x="632.71" y="309.5" width="3.0" height="19.7" fill="#f44336" stroke="#c42a27"/><rect x="636.98" y="320.7" width="3.0" height="8.5" fill="#4caf50" stroke="#0f8266"/><rect x="641.25" y="313.5" width="3.0" height="2.9" fill="#4caf50" stroke="#0f8266"/><rect x="645.52" y="307.0" width="3.0" height="7.7" fill="#f44336" stroke="#c42a27"/><rect x="649.79" y="309.0" width="3.0" height="0.9" fill="#4caf50" stroke="#0f8266"/><rect x="654.06" y="306.0" width="3.0" height="2.8" fill="#f44336" stroke="#c42a27"/><rect x="658.33" y="300.3" width="3.0" height="3.1" fill="#4caf50" stroke="#0f8266"/><rect x="662.60" y="287.4" width="3.0" height="12.9" fill="#4caf50" stroke="#0f8266"/><rect x="666.86" y="253.3" width="3.0" height="30.4" fill="#4caf50" stroke="#0f8266"/><rect x="671.13" y="251.0" width="3.0" height="1.4" fill="#4caf50" stroke="#0f8266"/><rect x="675.40" y="171.3" width="3.0" height="78.2" fill="#4caf50" stroke="#0f8266"/><rect x="679.67" y="162.2" width="3.0" height="5.5" fill="#4caf50" stroke="#0f8266"/><rect x="683.94" y="162.2" width="3.0" height="1.2" fill="#f44336" stroke="#c42a27"/><rect x="688.21" y="156.2" width="3.0" height="7.7" fill="#4caf50" stroke="#0f8266"/><rect x="692.48" y="143.4" width="3.0" height="21.4" fill="#4caf50" stroke="#0f8266"/><rect x="696.75" y="136.2" width="3.0" height="5.5" fill="#4caf50" stroke="#0f8266"/><rect x="701.02" y="127.1" width="3.0" height="3.4" fill="#f44336" stroke="#c42a27"/><rect x="705.28" y="108.6" width="3.0" height="21.6" fill="#4caf50" stroke="#0f8266"/><rect x="709.55" y="96.1" width="3.0" height="7.3" fill="#f44336" stroke="#c42a27"/><rect x="713.82" y="62.3" width="3.0" height="31.2" fill="#4caf50" stroke="#0f8266"/><rect x="718.09" y="61.5" width="3.0" height="21.7" fill="#f44336" stroke="#c42a27"/><rect x="722.36" y="68.3" width="3.0" height="6.4" fill="#f44336" stroke="#c42a27"/><rect x="726.63" y="70.0" width="3.0" height="6.4" fill="#f44336" stroke="#c42a27"/><rect x="730.90" y="62.3" width="3.0" height="7.2" fill="#4caf50" stroke="#0f8266"/><rect x="735.17" y="56.3" width="3.0" height="17.5" fill="#4caf50" stroke="#0f8266"/><rect x="739.44" y="64.4" width="3.0" height="6.3" fill="#f44336" stroke="#c42a27"/><rect x="743.71" y="61.3" width="3.0" height="24.1" fill="#f44336" stroke="#c42a27"/><rect x="747.98" y="77.7" width="3.0" height="0.9" fill="#4caf50" stroke="#0f8266"/><rect x="752.24" y="81.5" width="3.0" height="9.9" fill="#4caf50" stroke="#0f8266"/><rect x="756.51" y="80.7" width="3.0" height="28.7" fill="#f44336" stroke="#c42a27"/><rect x="760.78" y="62.3" width="3.0" height="48.0" fill="#4caf50" stroke="#0f8266"/><rect x="765.05" y="55.5" width="3.0" height="1.7" fill="#4caf50" stroke="#0f8266"/><rect x="769.32" y="46.1" width="3.0" height="26.3" fill="#f44336" stroke="#c42a27"/><rect x="773.59" y="63.0" width="3.0" height="10.3" fill="#f44336" stroke="#c42a27"/><rect x="777.86" y="80.7" width="3.0" height="13.8" fill="#f44336" stroke="#c42a27"/><rect x="782.13" y="84.1" width="3.0" height="32.9" fill="#f44336" stroke="#c42a27"/><rect x="786.40" y="107.5" width="3.0" height="1.2" fill="#f44336" stroke="#c42a27"/><rect x="790.66" y="114.1" width="3.0" height="17.1" fill="#f44336" stroke="#c42a27"/><rect x="794.93" y="121.5" width="3.0" height="9.7" fill="#4caf50" stroke="#0f8266"/><rect x="799.20" y="119.2" width="3.0" height="1.4" fill="#f44336" stroke="#c42a27"/><rect x="803.47" y="123.0" width="3.0" height="8.2" fill="#f44336" stroke="#c42a27"/><rect x="807.74" y="117.5" width="3.0" height="13.7" fill="#4caf50" stroke="#0f8266"/><rect x="812.01" y="126.1" width="3.0" height="5.1" fill="#f44336" stroke="#c42a27"/><rect x="816.28" y="124.0" width="3.0" height="17.5" fill="#f44336" stroke="#c42a27"/><rect x="820.55" y="140.7" width="3.0" height="18.8" fill="#f44336" stroke="#c42a27"/><rect x="824.82" y="156.1" width="3.0" height="1.7" fill="#4caf50" stroke="#0f8266"/><rect x="829.09" y="136.9" width="3.0" height="30.6" fill="#4caf50" stroke="#0f8266"/><rect x="833.36" y="130.0" width="3.0" height="24.3" fill="#f44336" stroke="#c42a27"/><rect x="837.62" y="153.2" width="3.0" height="1.5" fill="#4caf50" stroke="#0f8266"/><rect x="841.89" y="139.5" width="3.0" height="10.9" fill="#f44336" stroke="#c42a27"/><rect x="846.16" y="140.7" width="3.0" height="74.6" fill="#f44336" stroke="#c42a27"/><rect x="850.43" y="201.4" width="3.0" height="54.5" fill="#f44336" stroke="#c42a27"/><rect x="854.70" y="241.5" width="3.0" height="34.6" fill="#f44336" stroke="#c42a27"/><rect x="858.97" y="267.5" width="3.0" height="3.1" fill="#f44336" stroke="#c42a27"/><rect x="863.24" y="269.8" width="3.0" height="1.2" fill="#4caf50" stroke="#0f8266"/><rect x="867.51" y="262.4" width="3.0" height="18.8" fill="#f44336" stroke="#c42a27"/><rect x="871.78" y="270.6" width="3.0" height="34.6" fill="#f44336" stroke="#c42a27"/><rect x="876.04" y="304.0" width="3.0" height="6.0" fill="#f44336" stroke="#c42a27"/><rect x="880.31" y="304.0" width="3.0" height="3.3" fill="#f44336" stroke="#c42a27"/><rect x="884.58" y="299.6" width="3.0" height="7.7" fill="#4caf50" stroke="#0f8266"/><rect x="888.85" y="292.4" width="3.0" height="2.2" fill="#4caf50" stroke="#0f8266"/><rect x="893.12" y="283.5" width="3.0" height="13.1" fill="#f44336" stroke="#c42a27"/><rect x="897.39" y="286.0" width="3.0" height="4.1" fill="#f44336" stroke="#c42a27"/><rect x="901.66" y="274.0" width="3.0" height="10.3" fill="#f44336" stroke="#c42a27"/><rect x="905.93" y="279.5" width="3.0" height="5.2" fill="#f44336" stroke="#c42a27"/><rect x="910.20" y="297.0" width="3.0" height="6.0" fill="#f44336" stroke="#c42a27"/><rect x="914.47" y="301.4" width="3.0" height="16.1" fill="#f44336" stroke="#c42a27"/><rect x="918.74" y="300.9" width="3.0" height="9.4" fill="#4caf50" stroke="#0f8266"/><rect x="923.00" y="288.6" width="3.0" height="11.8" fill="#4caf50" stroke="#0f8266"/><rect x="927.27" y="282.4" width="3.0" height="16.7" fill="#f44336" stroke="#c42a27"/><rect x="931.54" y="300.5" width="3.0" height="8.1" fill="#f44336" stroke="#c42a27"/><rect x="935.81" y="303.6" width="3.0" height="5.8" fill="#4caf50" stroke="#0f8266"/><rect x="940.08" y="297.3" width="3.0" height="12.9" fill="#f44336" stroke="#c42a27"/><rect x="944.35" y="306.7" width="3.0" height="3.6" fill="#4caf50" stroke="#0f8266"/><rect x="948.62" y="300.1" width="3.0" height="18.3" fill="#f44336" stroke="#c42a27"/><rect x="952.89" y="311.2" width="3.0" height="22.6" fill="#f44336" stroke="#c42a27"/><rect x="957.16" y="336.7" width="3.0" height="5.7" fill="#f44336" stroke="#c42a27"/><rect x="961.42" y="343.2" width="3.0" height="2.9" fill="#f44336" stroke="#c42a27"/><rect x="965.69" y="350.4" width="3.0" height="2.8" fill="#f44336" stroke="#c42a27"/><rect x="969.96" y="336.7" width="3.0" height="2.8" fill="#4caf50" stroke="#0f8266"/><rect x="974.23" y="313.8" width="3.0" height="15.7" fill="#4caf50" stroke="#0f8266"/><rect x="978.50" y="313.8" width="3.0" height="23.4" fill="#f44336" stroke="#c42a27"/><rect x="982.77" y="336.7" width="3.0" height="23.3" fill="#f44336" stroke="#c42a27"/><rect x="987.04" y="347.0" width="3.0" height="3.9" fill="#f44336" stroke="#c42a27"/><rect x="991.31" y="339.5" width="3.0" height="12.6" fill="#4caf50" stroke="#0f8266"/><rect x="995.58" y="339.1" width="3.0" height="0.9" fill="#f44336" stroke="#c42a27"/><rect x="999.85" y="335.5" width="3.0" height="8.1" fill="#f44336" stroke="#c42a27"/><rect x="1004.12" y="332.4" width="3.0" height="28.2" fill="#f44336" stroke="#c42a27"/><rect x="1008.38" y="352.4" width="3.0" height="8.0" fill="#4caf50" stroke="#0f8266"/><rect x="1012.65" y="350.6" width="3.0" height="2.8" fill="#4caf50" stroke="#0f8266"/><rect x="1016.92" y="350.6" width="3.0" height="6.8" fill="#f44336" stroke="#c42a27"/><rect x="1021.19" y="361.3" width="3.0" height="44.1" fill="#f44336" stroke="#c42a27"/><rect x="1025.46" y="382.5" width="3.0" height="26.0" fill="#4caf50" stroke="#0f8266"/><rect x="1029.73" y="370.3" width="3.0" height="9.6" fill="#f44336" stroke="#c42a27"/><rect x="1034.00" y="364.0" width="3.0" height="12.8" fill="#f44336" stroke="#c42a27"/><rect x="1038.27" y="363.1" width="3.0" height="1.4" fill="#4caf50" stroke="#0f8266"/><rect x="1042.54" y="357.1" width="3.0" height="8.2" fill="#f44336" stroke="#c42a27"/><rect x="1046.81" y="363.1" width="3.0" height="2.6" fill="#4caf50" stroke="#0f8266"/><rect x="1051.07" y="357.4" width="3.0" height="0.9" fill="#f44336" stroke="#c42a27"/><rect x="1055.34" y="354.5" width="3.0" height="4.6" fill="#f44336" stroke="#c42a27"/><rect x="1059.61" y="348.2" width="3.0" height="10.4" fill="#4caf50" stroke="#0f8266"/><rect x="1063.88" y="327.7" width="3.0" height="11.6" fill="#4caf50" stroke="#0f8266"/><rect x="1068.15" y="316.6" width="3.0" height="9.9" fill="#f44336" stroke="#c42a27"/><rect x="1072.42" y="303.0" width="3.0" height="19.2" fill="#4caf50" stroke="#0f8266"/><rect x="1076.69" y="294.0" width="3.0" height="7.7" fill="#4caf50" stroke="#0f8266"/><rect x="1080.96" y="304.2" width="3.0" height="4.3" fill="#f44336" stroke="#c42a27"/><rect x="1085.23" y="293.8" width="3.0" height="16.9" fill="#4caf50" stroke="#0f8266"/></g>
</g>
<rect x="1125.3" y="2.6" width="1.75" height="520.6" fill="#797979"/>
<rect x="1.8" y="496.8" width="1178.4" height="1.4" fill="#3e3e3e"/>
<path d="M77.3,475.8 H89.9 Q92.1,475.8 92.1,478 V488.2 L83.6,493.9 L75.1,488.2 V478 Q75.1,475.8 77.3,475.8 Z" fill="#fff" stroke="#f23645" stroke-width="1.5" stroke-linejoin="round"/><text x="80.9" y="489.3" font-size="11.4" font-weight="700" fill="#f23645" stroke="#f23645" stroke-width="0.3" textLength="5.6" lengthAdjust="spacingAndGlyphs">E</text>
<path d="M344.2,475 L352.7,480 V490.8 Q352.7,493 350.5,493 H337.9 Q335.7,493 335.7,490.8 V480 Z" fill="#fff" stroke="#12997f" stroke-width="1.5" stroke-linejoin="round"/><text x="341.5" y="488.6" font-size="11.4" font-weight="700" fill="#12997f" stroke="#12997f" stroke-width="0.3" textLength="5.6" lengthAdjust="spacingAndGlyphs">E</text>
<circle cx="476.4" cy="484.4" r="9.65" fill="#fff" stroke="#2962ff" stroke-width="1.55"/><text x="473.4" y="488.6" font-size="11.4" font-weight="700" fill="#2962ff" stroke="#2962ff" stroke-width="0.3" textLength="6.6" lengthAdjust="spacingAndGlyphs">D</text>
<path d="M585.4,475.8 H598.0 Q600.2,475.8 600.2,478 V488.2 L591.7,493.9 L583.2,488.2 V478 Q583.2,475.8 585.4,475.8 Z" fill="#fff" stroke="#f23645" stroke-width="1.5" stroke-linejoin="round"/><text x="589.0" y="489.3" font-size="11.4" font-weight="700" fill="#f23645" stroke="#f23645" stroke-width="0.3" textLength="5.6" lengthAdjust="spacingAndGlyphs">E</text>
<path d="M841.4,475.8 H854.0 Q856.2,475.8 856.2,478 V488.2 L847.7,493.9 L839.2,488.2 V478 Q839.2,475.8 841.4,475.8 Z" fill="#fff" stroke="#f23645" stroke-width="1.5" stroke-linejoin="round"/><text x="845.0" y="489.3" font-size="11.4" font-weight="700" fill="#f23645" stroke="#f23645" stroke-width="0.3" textLength="5.6" lengthAdjust="spacingAndGlyphs">E</text>
<circle cx="869.4" cy="484.4" r="9.65" fill="#fff" stroke="#2962ff" stroke-width="1.55"/><text x="866.4" y="488.6" font-size="11.4" font-weight="700" fill="#2962ff" stroke="#2962ff" stroke-width="0.3" textLength="6.6" lengthAdjust="spacingAndGlyphs">D</text>
<text x="87.3" y="514.6" font-size="10.5" fill="#383838" textLength="17.6" lengthAdjust="spacingAndGlyphs">Feb</text>
<text x="172.6" y="514.6" font-size="10.5" fill="#383838" textLength="17.6" lengthAdjust="spacingAndGlyphs">Mar</text>
<text x="263.3" y="514.6" font-size="10.5" fill="#383838" textLength="15.9" lengthAdjust="spacingAndGlyphs">Apr</text>
<text x="342.8" y="514.6" font-size="10.5" fill="#383838" textLength="18.6" lengthAdjust="spacingAndGlyphs">May</text>
<text x="429.8" y="514.6" font-size="10.5" fill="#383838" textLength="15.9" lengthAdjust="spacingAndGlyphs">Jun</text>
<text x="524.5" y="514.6" font-size="10.5" fill="#383838" textLength="14.2" lengthAdjust="spacingAndGlyphs">Jul</text>
<text x="612.5" y="514.6" font-size="10.5" fill="#383838" textLength="17.6" lengthAdjust="spacingAndGlyphs">Aug</text>
<text x="702.2" y="514.6" font-size="10.5" fill="#383838" textLength="16.9" lengthAdjust="spacingAndGlyphs">Sep</text>
<text x="792.2" y="514.6" font-size="10.5" fill="#383838" textLength="16.9" lengthAdjust="spacingAndGlyphs">Oct</text>
<text x="877.8" y="514.6" font-size="10.5" fill="#383838" textLength="17.6" lengthAdjust="spacingAndGlyphs">Nov</text>
<text x="963.0" y="514.6" font-size="10.5" fill="#383838" textLength="17.0" lengthAdjust="spacingAndGlyphs">Dec</text>
<text x="-2.7" y="514.6" font-size="10.5" fill="#222" font-weight="700" textLength="24.4" lengthAdjust="spacingAndGlyphs">2021</text>
<text x="1057.8" y="514.6" font-size="10.5" fill="#222" font-weight="700" textLength="24.4" lengthAdjust="spacingAndGlyphs">2022</text>
<defs><clipPath id="yc"><rect x="1127" y="2.2" width="53.3" height="494"/></clipPath></defs><g clip-path="url(#yc)">
<text x="1135.0" y="487.0" font-size="10.4" fill="#383838" textLength="37.5" lengthAdjust="spacingAndGlyphs">2100.00</text>
<text x="1135.0" y="457.0" font-size="10.4" fill="#383838" textLength="37.5" lengthAdjust="spacingAndGlyphs">2150.00</text>
<text x="1135.0" y="427.0" font-size="10.4" fill="#383838" textLength="37.5" lengthAdjust="spacingAndGlyphs">2200.00</text>
<text x="1135.0" y="397.0" font-size="10.4" fill="#383838" textLength="37.5" lengthAdjust="spacingAndGlyphs">2250.00</text>
<text x="1135.0" y="367.0" font-size="10.4" fill="#383838" textLength="37.5" lengthAdjust="spacingAndGlyphs">2300.00</text>
<text x="1135.0" y="337.0" font-size="10.4" fill="#383838" textLength="37.5" lengthAdjust="spacingAndGlyphs">2350.00</text>
<text x="1135.0" y="307.0" font-size="10.4" fill="#383838" textLength="37.5" lengthAdjust="spacingAndGlyphs">2400.00</text>
<text x="1135.0" y="277.0" font-size="10.4" fill="#383838" textLength="37.5" lengthAdjust="spacingAndGlyphs">2450.00</text>
<text x="1135.0" y="247.0" font-size="10.4" fill="#383838" textLength="37.5" lengthAdjust="spacingAndGlyphs">2500.00</text>
<text x="1135.0" y="217.0" font-size="10.4" fill="#383838" textLength="37.5" lengthAdjust="spacingAndGlyphs">2550.00</text>
<text x="1135.0" y="187.0" font-size="10.4" fill="#383838" textLength="37.5" lengthAdjust="spacingAndGlyphs">2600.00</text>
<text x="1135.0" y="157.0" font-size="10.4" fill="#383838" textLength="37.5" lengthAdjust="spacingAndGlyphs">2650.00</text>
<text x="1135.0" y="127.0" font-size="10.4" fill="#383838" textLength="37.5" lengthAdjust="spacingAndGlyphs">2700.00</text>
<text x="1135.0" y="97.0" font-size="10.4" fill="#383838" textLength="37.5" lengthAdjust="spacingAndGlyphs">2750.00</text>
<text x="1135.0" y="67.0" font-size="10.4" fill="#383838" textLength="37.5" lengthAdjust="spacingAndGlyphs">2800.00</text>
<text x="1135.0" y="37.0" font-size="10.4" fill="#383838" textLength="37.5" lengthAdjust="spacingAndGlyphs">2850.00</text>
<text x="1135.0" y="6.2" font-size="10.4" fill="#383838" textLength="37.5" lengthAdjust="spacingAndGlyphs">2900.00</text>
</g>
<rect x="1141.3" y="8.6" width="24.4" height="16.2" rx="3.2" fill="#fff" stroke="#d9dce8" stroke-width="1"/>
<text x="1146.0" y="19.7" font-size="10" fill="#383838" textLength="15.8" lengthAdjust="spacingAndGlyphs">INR</text>
<path d="M1126.0,286.4 H1176.6 Q1178.8,286.4 1178.8,288.6 V298.7 Q1178.8,300.9 1176.6,300.9 H1126.0 Z" fill="#4caf50"/>
<text x="1135.2" y="297.7" font-size="10.4" fill="#fff" font-weight="700" textLength="37.3" lengthAdjust="spacingAndGlyphs">2416.15</text>
<text x="8.9" y="21.0" font-size="10.5" fill="#383838" textLength="157.9" lengthAdjust="spacingAndGlyphs">HINDUSTAN UNILEVER, 1D, NSE</text>
<text x="174.8" y="21.0" font-size="10.5" fill="#383838" textLength="7.3" lengthAdjust="spacingAndGlyphs">O</text>
<text x="182.8" y="21.0" font-size="10.5" fill="#2a9a8c" textLength="39.6" lengthAdjust="spacingAndGlyphs">2388.00</text>
<text x="230.4" y="21.0" font-size="10.5" fill="#383838" textLength="7.0" lengthAdjust="spacingAndGlyphs">H</text>
<text x="238.0" y="21.0" font-size="10.5" fill="#2a9a8c" textLength="39.4" lengthAdjust="spacingAndGlyphs">2421.90</text>
<text x="285.2" y="21.0" font-size="10.5" fill="#383838" textLength="5.0" lengthAdjust="spacingAndGlyphs">L</text>
<text x="291.0" y="21.0" font-size="10.5" fill="#2a9a8c" textLength="39.6" lengthAdjust="spacingAndGlyphs">2388.00</text>
<text x="338.0" y="21.0" font-size="10.5" fill="#383838" textLength="6.4" lengthAdjust="spacingAndGlyphs">C</text>
<text x="345.1" y="21.0" font-size="10.5" fill="#2a9a8c" textLength="39.6" lengthAdjust="spacingAndGlyphs">2416.15</text>
<text x="392.8" y="21.0" font-size="10.5" fill="#2a9a8c" textLength="80.2" lengthAdjust="spacingAndGlyphs">+24.75 (+1.03%)</text>
<text x="8.9" y="37.3" font-size="10.5" fill="#383838" textLength="98.5" lengthAdjust="spacingAndGlyphs">EMA (100, close, 0)</text>
<text x="115.0" y="37.3" font-size="10.5" fill="#3f9cf0" textLength="39.6" lengthAdjust="spacingAndGlyphs">2423.33</text>
<text x="8.9" y="53.4" font-size="10.5" fill="#383838" textLength="98.5" lengthAdjust="spacingAndGlyphs">EMA (200, close, 0)</text>
<text x="115.0" y="53.4" font-size="10.5" fill="#33c3da" textLength="39.6" lengthAdjust="spacingAndGlyphs">2415.28</text>
</svg></body></html>
